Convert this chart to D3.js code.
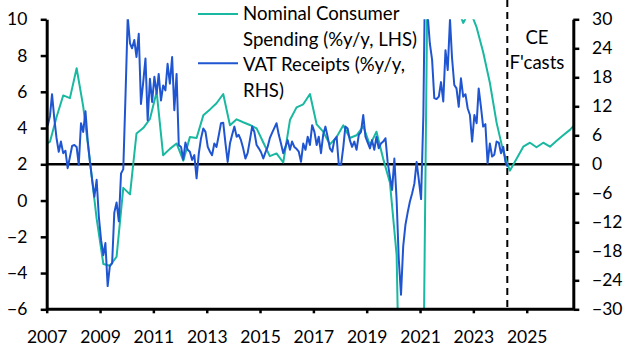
<!DOCTYPE html>
<html><head><meta charset="utf-8">
<script src="https://cdn.jsdelivr.net/npm/d3@7"></script>
<style>
html,body{margin:0;padding:0;background:#fff;}
svg{display:block;font-family:Lato,"Open Sans",sans-serif;}
</style></head><body>
<svg id="chart" width="629" height="355"></svg>
<script>
// ---- data ----
const leftTicks = [-6, -4, -2, 0, 2, 4, 6, 8, 10];
const rightTicks = [-30, -24, -18, -12, -6, 0, 6, 12, 18, 24, 30];
const yearTicks = [2007, 2009, 2011, 2013, 2015, 2017, 2019, 2021, 2023, 2025];
const legendLabels = ["Nominal Consumer", "Spending (%y/y, LHS)", "VAT Receipts (%y/y,", "RHS)"];
const forecastLabel = ["CE", "F'casts"];
const forecastStartDate = "2024-04-10";

// Nominal consumer spending, %y/y, quarterly, starting 2006 Q4 (CE forecasts from 2024 Q2)
const spendingFirstQuarter = [2006, 4];
const nominalSpending = [
  3.0,
  3.25, 4.6, 5.8, 5.65,
  7.3, 5.2, 2.2, -1.0,
  -3.5, -3.6, -3.1, 0.7,
  0.34, 3.7, 4.0, 4.5,
  6.0, 2.5, 2.85, 3.15,
  2.2, 3.5, 3.45, 4.7,
  5.03, 5.37, 5.88, 4.15,
  4.48, 4.32, 4.17, 3.98,
  3.2, 2.45, 2.6, 2.1,
  4.44, 5.14, 5.31, 5.88,
  4.2, 3.8, 3.1, 3.5,
  4.15, 3.45, 3.6, 4.1,
  3.05, 3.8, 2.3, 1.0,
  -3.0, -22.0, -9.0, -10.0,
  -10.0, 25.0, 14.0, 15.0,
  13.0, 10.8, 9.8, 10.5,
  9.55, 8.2, 6.5, 4.3,
  2.7, 1.65, 2.3, 2.97,
  3.19, 2.94, 3.19, 2.97,
  3.3, 3.6, 3.9, 4.3
];

// VAT receipts, %y/y, monthly, starting Jan 2007
const vatFirstMonth = [2007, 1];
const vatReceipts = [
  8.0, 10.0, 14.5, 9.5, 5.5, 2.6, 4.7, 2.3, 2.8, -0.8, 1.5, 3.8,
  4.0, 3.6, -0.1, 8.5, 6.7, 11.0, 5.0, 0.5, -3.3, -6.7, -3.2, -10.8,
  -15.7, -18.8, -16.3, -25.2, -21.0, -20.5, -10.0, -7.9, -11.8, -1.9, -1.0, 14.0,
  30.5, 25.0, 24.0, 25.7, 22.2, 27.0, 12.5, 17.0, 21.9, 9.1, 17.7, 12.9,
  18.1, 14.6, 18.7, 13.2, 16.3, 15.3, 20.8, 16.7, 22.2, 11.2, 18.7, 4.0,
  3.6, 1.0, 4.5, 3.0, 2.6, 0.9, 1.9, -2.9, 2.3, 5.4, 7.4, 6.7,
  3.6, 2.6, 1.9, 4.3, 3.6, 6.0, 8.5, 8.6, 4.3, 0.5, 4.3, 6.1,
  7.8, 5.7, 6.1, 5.0, 3.3, 1.2, 2.3, 5.0, 7.8, 6.7, 4.0, 3.3,
  2.5, 1.2, 2.4, 3.6, 5.4, 6.5, 7.5, 8.5, 6.1, 4.3, 2.3, 3.6,
  5.0, 3.0, 4.7, 3.6, 3.2, 2.6, 0.5, 4.3, 3.0, 5.7, 4.0, 8.1,
  6.7, 4.0, 5.7, 2.3, 6.1, 7.8, 5.7, 3.3, 2.6, 5.0, 5.7, -0.1,
  -0.1, 3.6, 7.8, 7.4, 5.0, 3.6, 4.7, 3.0, 6.1, 6.7, 10.2, 5.7,
  4.5, 3.3, 5.0, 3.0, 5.7, 3.3, 4.3, 4.7, 5.4, 0.5, -2.6, -5.3,
  1.2, -7.4, -19.5, -27.0, -17.0, -12.5, -10.0, -7.7, -6.0, -4.0, 0.5, -3.2,
  -7.2, 10.0, 45.0, 31.0, 25.0, 21.6, 13.7, 13.5, 14.0, 17.0, 13.0, 23.6,
  19.5, 30.0, 22.0, 16.4, 15.7, 11.9, 17.8, 14.0, 14.5, 11.6, 10.2, 4.7,
  10.2, 8.5, 15.7, 11.9, 7.8, 8.3, 0.2, 4.3, 1.6, 2.0, 4.7, 4.5,
  2.3, 3.6, 0.5, -0.5
];

// ---- build ----
const spendingData = nominalSpending.map((v, i) => {
  const q = (spendingFirstQuarter[1] - 1) + i;
  const year = spendingFirstQuarter[0] + Math.floor(q / 4);
  const qi = q % 4;
  return { date: new Date(year, qi * 3 + 1, 15), value: v };
});
const vatData = vatReceipts.map((v, i) => ({
  date: new Date(vatFirstMonth[0], vatFirstMonth[1] - 1 + i, 15), value: v
}));

const svg = d3.select("#chart");
const L = 46.7, R = 573.3, T = 19.3, B = 309.3;
const teal = "#19b8a0", blue = "#1f55d0";
const fontSize = 17.5;
const textSize = 18.6;

const x = d3.scaleTime().domain([new Date(2007, 0, 1), new Date(2026, 9, 1)]).range([L, R]);
const yL = d3.scaleLinear().domain([-6, 10]).range([B, T]);
const yR = d3.scaleLinear().domain([-30, 30]).range([B, T]);

svg.append("defs").append("clipPath").attr("id", "plotclip")
  .append("rect").attr("x", L).attr("y", T).attr("width", R - L).attr("height", B - T);

// zero line (0 on RHS = 2 on LHS)
svg.append("line").attr("x1", L).attr("x2", R).attr("y1", yR(0)).attr("y2", yR(0))
  .attr("stroke", "#000").attr("stroke-width", 2.5);

// forecast divider
const fx = x(new Date(forecastStartDate));
svg.append("line").attr("x1", fx).attr("x2", fx).attr("y1", 0).attr("y2", B)
  .attr("stroke", "#000").attr("stroke-width", 2).attr("stroke-dasharray", "7,5");

const plot = svg.append("g").attr("clip-path", "url(#plotclip)");
plot.append("path").datum(spendingData)
  .attr("d", d3.line().x(d => x(d.date)).y(d => yL(d.value)))
  .attr("fill", "none").attr("stroke", teal).attr("stroke-width", 2).attr("stroke-linejoin", "round");
plot.append("path").datum(vatData)
  .attr("d", d3.line().x(d => x(d.date)).y(d => yR(d.value)))
  .attr("fill", "none").attr("stroke", blue).attr("stroke-width", 2).attr("stroke-linejoin", "round");

// axes
function styleAxis(g) {
  g.select(".domain").attr("stroke", "#000").attr("stroke-width", 3);
  g.selectAll(".tick line").attr("stroke", "#000").attr("stroke-width", 2.5);
  g.selectAll(".tick text").attr("fill", "#000").attr("font-size", fontSize)
    .attr("font-family", "Lato, 'Open Sans', sans-serif");
}
const gL = svg.append("g").attr("transform", `translate(${L},0)`)
  .call(d3.axisLeft(yL).tickValues(leftTicks).tickSize(6).tickSizeOuter(0).tickPadding(13.4).tickFormat(d3.format("d")));
styleAxis(gL);
const gR = svg.append("g").attr("transform", `translate(${R},0)`)
  .call(d3.axisRight(yR).tickValues(rightTicks).tickSize(6).tickSizeOuter(0).tickPadding(12.7).tickFormat(d3.format("d")));
styleAxis(gR);
const gB = svg.append("g").attr("transform", `translate(0,${B})`)
  .call(d3.axisBottom(x).tickValues(yearTicks.map(yv => new Date(yv, 0, 1))).tickSize(4).tickSizeOuter(0).tickFormat(d3.timeFormat("%Y")));
styleAxis(gB);
gB.selectAll(".tick text").attr("y", 33.7).attr("dy", 0);
gB.select(".domain").attr("d", `M${L},0H${R}`);

// legend
const lg = svg.append("g");
lg.append("line").attr("x1", 198).attr("x2", 238).attr("y1", 14).attr("y2", 14)
  .attr("stroke", teal).attr("stroke-width", 2);
lg.append("line").attr("x1", 198).attr("x2", 238).attr("y1", 63.3).attr("y2", 63.3)
  .attr("stroke", blue).attr("stroke-width", 2);
const baselines = [20, 45.5, 71, 96.5];
legendLabels.forEach((t, i) => {
  lg.append("text").attr("x", 243).attr("y", baselines[i]).attr("font-size", textSize)
    .attr("fill", "#000").text(t);
});

// forecast label
forecastLabel.forEach((t, i) => {
  svg.append("text").attr("x", 537).attr("y", [44, 68.5][i]).attr("text-anchor", "middle")
    .attr("font-size", textSize).attr("fill", "#000").text(t);
});
</script>
</body></html>
